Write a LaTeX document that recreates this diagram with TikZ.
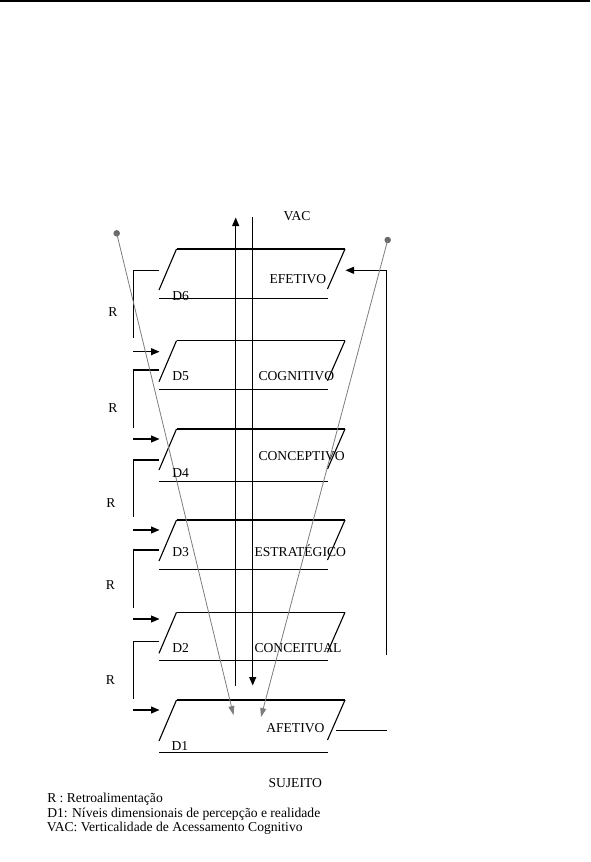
\documentclass[tikz,border=0pt]{standalone}
\usepackage{fontspec}
\setmainfont{Liberation Serif}
\usetikzlibrary{arrows.meta}
\definecolor{greyline}{RGB}{125,125,125}
\definecolor{greydot}{RGB}{105,105,105}
\begin{document}
\begin{tikzpicture}[x=1pt,y=-1pt,line width=1.1pt,line cap=butt,
  lbl/.style={font=\fontsize{13.6}{15}\selectfont,inner sep=0pt,anchor=base west},
  rlbl/.style={font=\fontsize{13.6}{15}\selectfont,inner sep=0pt,anchor=base},
  blackarrow/.style={-{Triangle[length=8.5pt,width=7pt]}},
  greyarrow/.style={draw=greyline,line width=0.8pt,-{Triangle[length=9pt,width=6pt]}},
  greydotstyle/.style={circle,fill=greydot,inner sep=0pt,minimum size=6.5pt}]
\useasboundingbox (0,0) rectangle (590,862);
% top rule
\draw[line width=1.6pt] (0,0.8) -- (590,0.8);

% level shapes
\foreach \t/\b in {249/298.3, 340.7/389.3, 429/481.3, 520/569.3, 612.3/660.7, 700/752.3}{
  \draw (176.5,\t) -- (345,\t);
  \draw (176.5,\t) -- (159,\t+41);
  \draw (345,\t) -- (327.5,\t+40);
  \draw (159,\b) -- (328,\b);
}

% left feedback brackets and arrows
\foreach \by/\ey/\ay [count=\i] in {270.3/338/351.7, 370/428/439, 460/516.7/530, 550/608/619, 641.7/699/710}{
  \coordinate (bs\i) at (159,\by);
  \coordinate (bc\i) at (133.8,\by);
  \coordinate (be\i) at (133.8,\ey);
  \coordinate (as\i) at (133.3,\ay);
  \coordinate (ae\i) at (159.5,\ay);
  \draw (bs\i) -- (bc\i) -- (be\i);
  \draw[blackarrow] (as\i) -- (ae\i);
}

% right feedback
\coordinate (fbS) at (386.7,655);
\coordinate (fbC) at (386.7,270.3);
\coordinate (fbE) at (345.5,270.3);
\draw[blackarrow] (fbS) -- (fbC) -- (fbE);

% AFETIVO right line
\coordinate (afA) at (336,730.3);
\coordinate (afB) at (386.7,730.3);
\draw (afA) -- (afB);

% VAC arrows
\coordinate (upS) at (235.7,686);
\coordinate (upE) at (235.7,217.5);
\coordinate (dnS) at (252.7,217);
\coordinate (dnE) at (252.7,685.5);
\draw[blackarrow] (upS) -- (upE);
\draw[blackarrow] (dnS) -- (dnE);

% grey lines
\node[greydotstyle] (gl) at (116.7,233.3) {};
\node[greydotstyle] (gr) at (387.7,240) {};
\coordinate (glE) at (233.5,715);
\coordinate (grE) at (261,717);
\draw[greyarrow] (gl.center) -- (glE);
\draw[greyarrow] (gr.center) -- (grE);

% labels
\node[rlbl] (vac) at (297,220.5) {VAC};
\node[lbl] (efe) at (269,283.5) {EFETIVO};
\node[lbl] (cog) at (258,380.5) {COGNITIVO};
\node[lbl] (con) at (258,460.5) {CONCEPTIVO};
\node[lbl] (est) at (254,556.2) {ESTRATÉGICO};
\node[lbl] (cot) at (254,652.8) {CONCEITUAL};
\node[lbl] (afe) at (265.7,732.8) {AFETIVO};
\node[lbl] (suj) at (268,787.2) {SUJEITO};

\node[lbl] (d6) at (171.7,300.2) {D6};
\node[lbl] (d5) at (171.7,380.5) {D5};
\node[lbl] (d4) at (171.7,477.5) {D4};
\node[lbl] (d3) at (171.7,556.2) {D3};
\node[lbl] (d2) at (171.7,652.8) {D2};
\node[lbl] (d1) at (171,750.2) {D1};

\node[rlbl] (r1) at (113,316.2) {R};
\node[rlbl] (r2) at (113,412.8) {R};
\node[rlbl] (r3) at (111,507.8) {R};
\node[rlbl] (r4) at (110.5,589.5) {R};
\node[rlbl] (r5) at (110.5,684.5) {R};

% legend
\node[lbl] (leg1) at (46.7,802.5) {R : Retroalimentação};
\node[lbl] (leg2) at (46.7,817.3) {D1: Níveis dimensionais de percepção e realidade};
\node[lbl] (leg3) at (46.2,831.7) {VAC: Verticalidade de Acessamento Cognitivo};
\end{tikzpicture}
\end{document}
